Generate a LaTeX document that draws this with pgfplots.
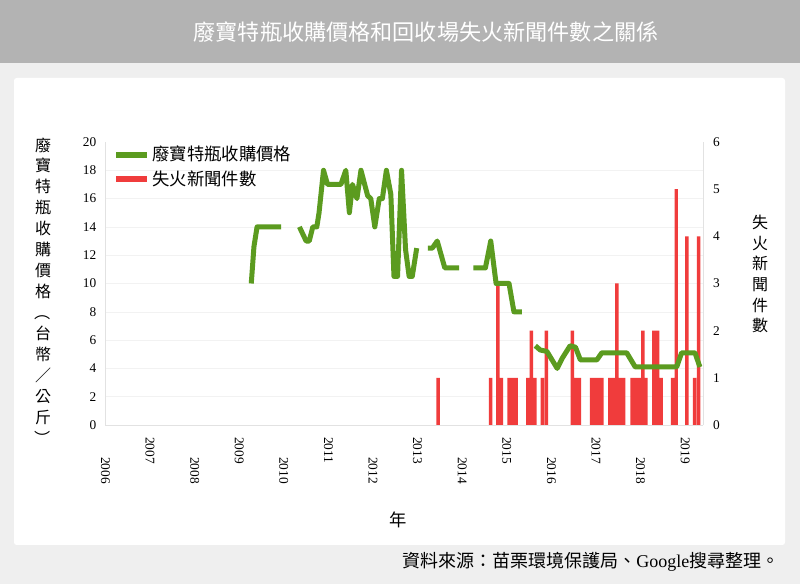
\documentclass[border=0pt]{standalone}
\usepackage{fontspec}
\setmainfont{Liberation Serif}
\newfontfamily\cjk{Noto Sans CJK TC}
\usepackage{graphicx}
\usepackage{pgfplots}
\pgfplotsset{compat=1.18}

\definecolor{bggray}{HTML}{EFEFEF}
\definecolor{banner}{HTML}{B3B3B3}
\definecolor{pricegreen}{HTML}{5B9B1F}
\definecolor{firered}{HTML}{F03C3C}
\definecolor{axgray}{HTML}{E2E2E2}

% vertical-form bracket: turn the full-width one about its centre
\newcommand{\vbr}[1]{\raisebox{0pt}[0.85em][0.15em]{\rotatebox[origin=c]{-90}{#1}}}

\begin{document}
\begin{tikzpicture}
\useasboundingbox (0,0) rectangle (600pt,438pt);
\fill[bggray] (0,0) rectangle (600pt,438pt);
\fill[banner] (0,390.75pt) rectangle (600pt,438pt);
\fill[white, rounded corners=2pt] (10.5pt,29.25pt) rectangle (588.75pt,379.5pt);

\node[text=white, font=\cjk\fontsize{16.6}{18}\selectfont] at (319.5pt,414pt)
  {廢寶特瓶收購價格和回收場失火新聞件數之關係};

% fire news count (right axis)
\begin{axis}[
  at={(78.75pt,119.25pt)}, anchor=south west,
  scale only axis, width=448.5pt, height=212.25pt,
  xmin=2005.99, xmax=2019.40,
  ymin=0, ymax=6,
  axis x line=none,
  axis y line*=right,
  axis line style={axgray},
  ytick={0,1,2,3,4,5,6},
  major tick length=0pt,
  yticklabel shift=4pt,
  tick label style={font=\fontsize{10}{12}\selectfont},
  /pgf/number format/assume math mode=true,
  extra y ticks={0.6,1.2,1.8,2.4,3.0,3.6,4.2,4.8,5.4},
  extra y tick labels={},
  extra y tick style={grid=major, major grid style={gray!10}},
  ybar, bar width=0.078, bar shift=0pt,
]
\addplot[fill=firered, draw=none] coordinates {
  (2013.46,1)
  (2014.64,1) (2014.80,3) (2014.88,1)
  (2015.05,1) (2015.13,1) (2015.21,1)
  (2015.47,1) (2015.55,2) (2015.63,1)
  (2015.80,1) (2015.89,2)
  (2016.47,2) (2016.55,1) (2016.63,1)
  (2016.90,1) (2016.97,1) (2017.05,1) (2017.13,1)
  (2017.31,1) (2017.39,1) (2017.47,3) (2017.54,1) (2017.62,1)
  (2017.81,1) (2017.89,1) (2017.97,1) (2018.05,2) (2018.12,1)
  (2018.30,2) (2018.38,2) (2018.46,1)
  (2018.72,1) (2018.80,5)
  (2019.04,4)
  (2019.21,1) (2019.30,4)
};
\end{axis}

% PET bottle price (left axis)
\begin{axis}[
  at={(78.75pt,119.25pt)}, anchor=south west,
  scale only axis, width=448.5pt, height=212.25pt,
  xmin=2005.99, xmax=2019.40,
  ymin=0, ymax=20,
  axis x line*=bottom,
  axis y line*=left,
  axis line style={axgray},
  major tick length=0pt,
  ytick={0,2,...,20},
  yticklabel shift=3pt,
  xtick={2006,2008,...,2018},
  xticklabel style={rotate=-90, anchor=west, inner sep=0pt},
  xticklabel shift=24pt,
  extra x ticks={2007,2009,...,2019},
  extra x tick style={xticklabel shift=9pt},
  tick label style={font=\fontsize{10}{12}\selectfont},
  /pgf/number format/assume math mode=true,
  /pgf/number format/1000 sep={},
  unbounded coords=jump,
  legend style={at={(axis description cs:0,1)}, anchor=north west,
    xshift=3pt, yshift=1pt, draw=none, fill=none,
    font=\cjk\fontsize{13}{15}\selectfont, row sep=2pt},
  legend cell align=left,
  legend image code/.code={\draw[#1, line width=4.5pt] (0pt,0pt) -- (23pt,0pt);},
]
\addplot[pricegreen, line width=3.75pt, line join=round] coordinates {
  (2009.27,10) (2009.33,12.6) (2009.40,14) (2009.94,14)
  (2010.1,nan)
  (2010.35,14) (2010.50,13) (2010.57,13) (2010.65,14) (2010.74,14)
  (2010.79,15) (2010.89,18) (2010.98,17) (2011.28,17) (2011.39,18)
  (2011.47,15) (2011.54,17) (2011.64,16) (2011.73,18) (2011.88,16.2)
  (2011.95,16) (2012.04,14) (2012.14,16) (2012.21,16) (2012.30,18)
  (2012.40,16.3) (2012.47,10.5) (2012.55,10.5) (2012.64,18) (2012.73,12.4)
  (2012.81,10.5) (2012.88,10.5) (2012.98,12.5)
  (2013.1,nan)
  (2013.23,12.5) (2013.33,12.5) (2013.44,13) (2013.61,11.1) (2013.93,11.1)
  (2014.1,nan)
  (2014.25,11.1) (2014.52,11.1) (2014.64,13) (2014.76,10) (2015.05,10)
  (2015.16,8) (2015.34,8)
  (2015.5,nan)
  (2015.64,5.6) (2015.75,5.3) (2015.90,5.2) (2016.13,4.0) (2016.24,4.7)
  (2016.42,5.6) (2016.54,5.5) (2016.65,4.6) (2017.02,4.6) (2017.13,5.1)
  (2017.69,5.1) (2017.88,4.1) (2018.81,4.1) (2018.92,5.1) (2019.22,5.1)
  (2019.33,4.1)
};
\addlegendentry{廢寶特瓶收購價格}
\addlegendimage{firered, line width=3.75pt}
\addlegendentry{失火新聞件數}
\end{axis}

\node[align=center, font=\cjk\fontsize{12}{15.7}\selectfont] at (32.25pt,219pt)
  {廢\\寶\\特\\瓶\\收\\購\\價\\格\\\vbr{（}\\台\\幣\\／\\公\\斤\\\vbr{）}};
\node[align=center, font=\cjk\fontsize{12}{15.5}\selectfont] at (570pt,232.5pt)
  {失\\火\\新\\聞\\件\\數};
\node[font=\cjk\fontsize{13}{15}\selectfont] at (298.5pt,48pt) {年};
\node[anchor=east, font=\cjk\fontsize{13.5}{15}\selectfont] at (588pt,16.5pt)
  {資料來源：苗栗環境保護局、{\rmfamily Google}搜尋整理。};
\end{tikzpicture}
\end{document}
